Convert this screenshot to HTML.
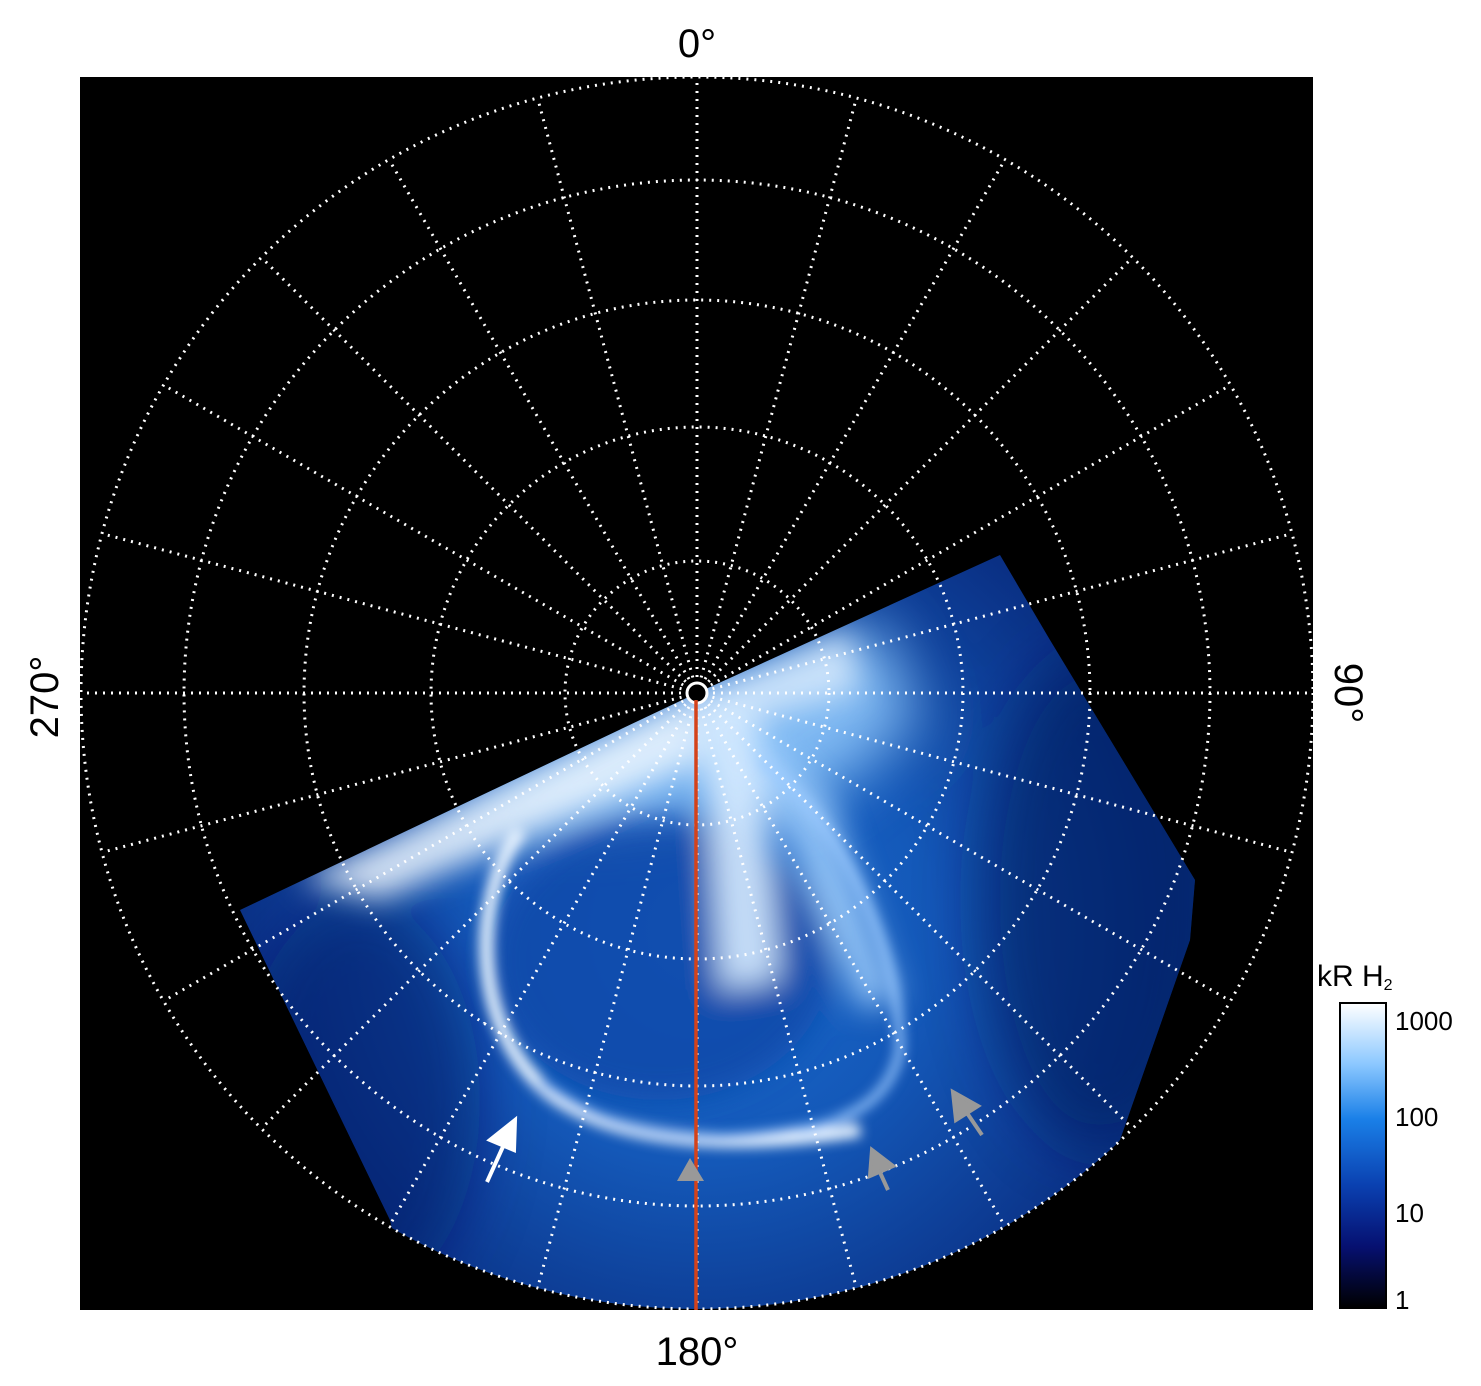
<!DOCTYPE html>
<html><head><meta charset="utf-8"><style>
html,body{margin:0;padding:0;background:#fff;}
svg{display:block;font-family:"Liberation Sans",sans-serif;}
</style></head><body>
<svg width="1481" height="1386" viewBox="0 0 1481 1386" xmlns="http://www.w3.org/2000/svg">
<defs>
<clipPath id="oc"><circle cx="697" cy="693" r="616"/></clipPath>
<clipPath id="wc"><polygon points="697,693 1000,555 1050,640 1195,880 1190,940 1120,1140 900,1400 430,1400 390,1220 240,910"/></clipPath>
<filter id="b6" x="-50%" y="-50%" width="200%" height="200%"><feGaussianBlur stdDeviation="6"/></filter>
<filter id="b15" x="-50%" y="-50%" width="200%" height="200%"><feGaussianBlur stdDeviation="15"/></filter>
<filter id="b30" x="-50%" y="-50%" width="200%" height="200%"><feGaussianBlur stdDeviation="30"/></filter>
<radialGradient id="rg" cx="700" cy="930" r="520" gradientUnits="userSpaceOnUse">
<stop offset="0" stop-color="#1a6cd0"/><stop offset="0.45" stop-color="#1458b8"/><stop offset="1" stop-color="#08287a"/>
</radialGradient>
<linearGradient id="cb" x1="0" y1="0" x2="0" y2="1">
<stop offset="0" stop-color="#ffffff"/><stop offset="0.2" stop-color="#8cc8ff"/><stop offset="0.38" stop-color="#1a80e8"/><stop offset="0.6" stop-color="#0a40b0"/><stop offset="0.8" stop-color="#061070"/><stop offset="1" stop-color="#000000"/>
</linearGradient>
</defs>
<rect x="80" y="77" width="1233" height="1233" fill="#000"/>
<g clip-path="url(#oc)">
<g clip-path="url(#wc)">
<rect x="80" y="500" width="1233" height="900" fill="url(#rg)"/>
<g filter="url(#b30)">
<polygon points="697,693 880,620 920,720 820,800 620,830 420,830 330,870 600,740" fill="#8cc4f8" opacity="0.9"/>
<ellipse cx="1100" cy="900" rx="120" ry="250" fill="#061c60" opacity="0.6"/>
<ellipse cx="360" cy="1100" rx="120" ry="200" fill="#061c60" opacity="0.5"/>
</g>
<g filter="url(#b15)">
<polygon points="697,693 300,880 380,900 700,760" fill="#f0f8ff" opacity="0.85"/>
<polygon points="697,693 850,630 860,690 720,730" fill="#e0f0ff" opacity="0.8"/>
<ellipse cx="660" cy="960" rx="170" ry="140" fill="#0c48a8" opacity="0.8"/>
<path d="M700,700 L760,720 L780,980 L720,990 Z" fill="#d8ecff" opacity="0.9"/>
<path d="M740,720 L830,800 L900,1000 L860,1010 L780,820 Z" fill="#a8d4ff" opacity="0.8"/>
</g>
<g filter="url(#b6)" fill="none" stroke="#eaf5ff">
<path d="M520,830 C470,900 470,1040 560,1100 C640,1150 760,1145 860,1130" stroke-width="14"/>
<path d="M760,760 C840,820 900,950 900,1050 C890,1100 850,1120 800,1130" stroke-width="8" stroke="#9ccaff"/>
<path d="M540,1080 C620,1140 700,1150 840,1120" stroke-width="6" stroke="#6aa8f0"/>
</g>
</g>
</g>
<g fill="none" stroke="#fff" stroke-width="3" stroke-dasharray="2 6">
<circle cx="697" cy="693" r="132"/>
<circle cx="697" cy="693" r="266"/>
<circle cx="697" cy="693" r="393"/>
<circle cx="697" cy="693" r="513"/>
<circle cx="697" cy="693" r="616"/>
</g>
<g stroke="#fff" stroke-width="3" stroke-dasharray="2 6">
<line x1="697" y1="693" x2="697" y2="77"/>
<line x1="697" y1="693" x2="856.4" y2="98"/>
<line x1="697" y1="693" x2="1005" y2="159.5"/>
<line x1="697" y1="693" x2="1132.6" y2="257.4"/>
<line x1="697" y1="693" x2="1230.5" y2="385"/>
<line x1="697" y1="693" x2="1292" y2="533.6"/>
<line x1="697" y1="693" x2="1313" y2="693"/>
<line x1="697" y1="693" x2="1292" y2="852.4"/>
<line x1="697" y1="693" x2="1230.5" y2="1001"/>
<line x1="697" y1="693" x2="1132.6" y2="1128.6"/>
<line x1="697" y1="693" x2="1005" y2="1226.5"/>
<line x1="697" y1="693" x2="856.4" y2="1288"/>
<line x1="697" y1="693" x2="697" y2="1309"/>
<line x1="697" y1="693" x2="537.6" y2="1288"/>
<line x1="697" y1="693" x2="389" y2="1226.5"/>
<line x1="697" y1="693" x2="261.4" y2="1128.6"/>
<line x1="697" y1="693" x2="163.5" y2="1001"/>
<line x1="697" y1="693" x2="102" y2="852.4"/>
<line x1="697" y1="693" x2="81" y2="693"/>
<line x1="697" y1="693" x2="102" y2="533.6"/>
<line x1="697" y1="693" x2="163.5" y2="385"/>
<line x1="697" y1="693" x2="261.4" y2="257.4"/>
<line x1="697" y1="693" x2="389" y2="159.5"/>
<line x1="697" y1="693" x2="537.6" y2="98"/>
</g>
<circle cx="697" cy="693" r="10" fill="#000" stroke="#fff" stroke-width="3"/>
<line x1="696" y1="700" x2="696" y2="1310" stroke="#d4421a" stroke-width="3.5"/>
<polygon points="690,1158 677,1181 704,1181" fill="#999"/>
<g stroke="#fff" stroke-width="4" fill="#fff">
<line x1="487" y1="1182" x2="506" y2="1140"/><polygon points="515,1120 490,1140 514,1150"/>
</g>
<g stroke="#999" stroke-width="4" fill="#999">
<line x1="888" y1="1190" x2="878" y2="1168"/><polygon points="872,1150 870,1176 893,1166"/>
<line x1="982" y1="1135" x2="965" y2="1110"/><polygon points="953,1092 956,1120 978,1106"/>
</g>
<text x="697" y="57" font-size="40" text-anchor="middle">0°</text>
<text x="697" y="1365" font-size="40" text-anchor="middle">180°</text>
<text transform="translate(58,697) rotate(-90)" font-size="40" text-anchor="middle">270°</text>
<text transform="translate(1335,693) rotate(90)" font-size="40" text-anchor="middle">90°</text>
<rect x="1340" y="1003" width="46" height="305" fill="url(#cb)" stroke="#000" stroke-width="2"/>
<text x="1317" y="986" font-size="30">kR H<tspan font-size="16" dy="4">2</tspan></text>
<g font-size="26">
<text x="1395" y="1030">1000</text>
<text x="1395" y="1126">100</text>
<text x="1395" y="1222">10</text>
<text x="1395" y="1309">1</text>
</g>
</svg>
</body></html>
